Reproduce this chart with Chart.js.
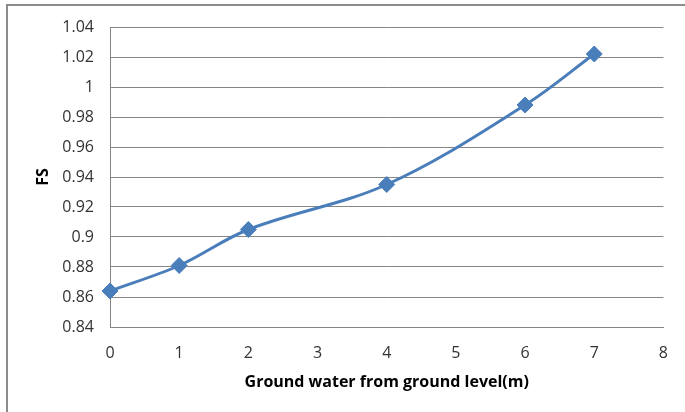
<!DOCTYPE html>
<html>
<head>
<meta charset="utf-8">
<script src="https://cdn.jsdelivr.net/npm/chart.js@4/dist/chart.umd.min.js"></script>
<style>
  html, body { margin: 0; padding: 0; background: #fff; }
  #wrap { width: 685px; height: 412px; }
</style>
</head>
<body>
<div id="wrap"><canvas id="fsChart" width="685" height="412"></canvas></div>
<script>
let depths = [0, 1, 2, 4, 6, 7];
let fsValues = [0.864, 0.881, 0.905, 0.935, 0.988, 1.022];
let xTitle = "Ground water from ground level(m)";
let yTitle = "FS";

let gridGray = "#868686";
let blue = "#4a7ebb";

// outer frame like the Excel chart border (only top and left are visible)
const framePlugin = {
  id: "frame",
  beforeDraw(chart) {
    const c = chart.ctx;
    c.save();
    c.strokeStyle = "#8c8c8c";
    c.lineWidth = 2;
    c.beginPath();
    c.moveTo(7, 412);
    c.lineTo(7, 5);
    c.lineTo(685, 5);
    c.stroke();
    c.restore();
  },
};

new Chart(document.getElementById("fsChart"), {
  type: "line",
  plugins: [framePlugin],
  data: {
    datasets: [
      {
        data: depths.map((d, i) => ({ x: d, y: fsValues[i] })),
        borderColor: blue,
        backgroundColor: blue,
        borderWidth: 3,
        pointStyle: "rectRot",
        pointRadius: 8,
        pointBorderWidth: 1,
        tension: 0.35,
        clip: false,
      },
    ],
  },
  options: {
    responsive: false,
    animation: false,
    layout: { padding: { top: 27, right: 20, left: 0, bottom: 0 } },
    plugins: { legend: { display: false }, tooltip: { enabled: false } },
    scales: {
      x: {
        type: "linear",
        min: 0,
        max: 8,
        afterFit: (s) => { s.height = 85; },
        ticks: {
          stepSize: 1,
          padding: 17,
          color: "#333333",
          font: { family: "Open Sans", size: 16 },
        },
        grid: { display: false, drawTicks: false },
        border: { display: true, color: gridGray, width: 1 },
        title: {
          display: true,
          text: xTitle,
          color: "#000",
          padding: { top: 0, bottom: 20 },
          font: { family: "Open Sans", size: 16, weight: "bold" },
        },
      },
      y: {
        min: 0.84,
        max: 1.04,
        afterFit: (s) => { s.width = 110; },
        ticks: {
          stepSize: 0.02,
          padding: 16,
          color: "#333333",
          font: { family: "Open Sans", size: 16 },
          callback: (v) => parseFloat(v.toFixed(2)).toString(),
        },
        grid: { color: gridGray, drawTicks: false },
        border: { display: true, color: gridGray, width: 1 },
        title: {
          display: true,
          text: yTitle,
          color: "#000",
          padding: { top: 34 },
          font: { family: "Open Sans", size: 16, weight: "bold" },
        },
      },
    },
  },
});
</script>
</body>
</html>
